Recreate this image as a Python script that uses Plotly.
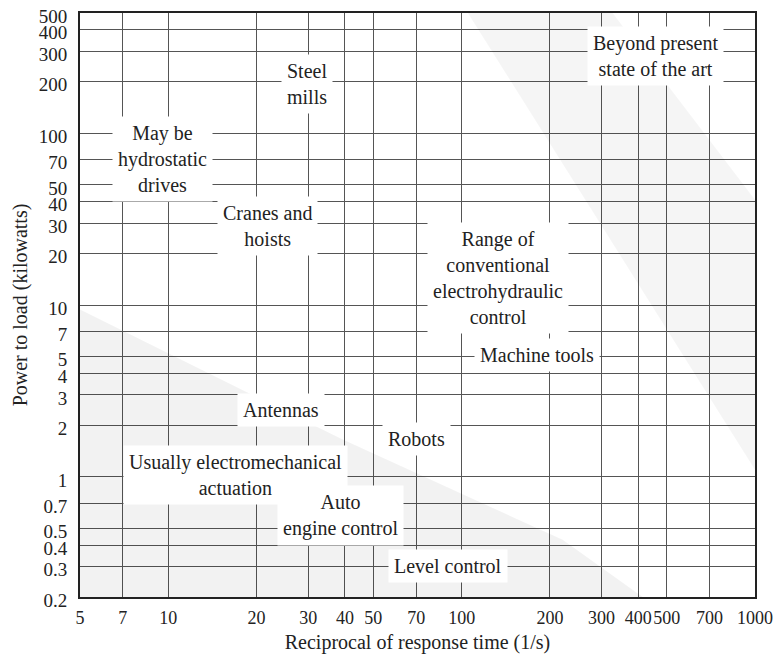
import numpy as np
import plotly.graph_objects as go

# Axis grid / tick values
x_ticks = [5, 7, 10, 20, 30, 40, 50, 70, 100, 200, 300, 400, 500, 700, 1000]
x_tick_text = ["5", "7", "10", "20", "30", "40", "50", "70", "100", "200", "300", "400", "500", "700", "1000"]
y_ticks = [0.2, 0.3, 0.4, 0.5, 0.7, 1, 2, 3, 4, 5, 7, 10, 20, 30, 40, 50, 70, 100, 200, 300, 400, 500]
y_tick_text = ["0.2", "0.3", "0.4", "0.5", "0.7", "1", "2", "3", "4", "5", "7", "10", "20", "30", "40",
               "50", "70", "100", "200", "300", "400", "500"]

# Region labels (response rate 1/s, power kW)
labels = [
    "Beyond present<br>state of the art",
    "Steel<br>mills",
    "May be<br>hydrostatic<br>drives",
    "Cranes and<br>hoists",
    "Range of<br>conventional<br>electrohydraulic<br>control",
    "Machine tools",
    "Antennas",
    "Robots",
    "Usually electromechanical<br>actuation",
    "Auto<br>engine control",
    "Level control",
]
label_x = [459, 29.7, 9.55, 21.75, 133, 181, 24.2, 70, 16.9, 38.6, 90]
label_y = [280, 194, 71, 28.8, 14.3, 5.1, 2.44, 1.66, 1.03, 0.60, 0.302]

# Shaded (grey) bands
lower_band_x = [5, 39, 221, 414, 5]
lower_band_y = [9.4, 1.66, 0.43, 0.2, 0.2]
upper_band_x = [105, 327, 1000, 1000]
upper_band_y = [500, 500, 41, 1.1]

FONT = "Liberation Serif, Times New Roman, serif"

fig = go.Figure()
fig.add_trace(go.Scatter(x=lower_band_x, y=lower_band_y, fill="toself", mode="lines",
                         line=dict(width=0), fillcolor="rgba(0,0,0,0.05)",
                         hoverinfo="skip", showlegend=False))
fig.add_trace(go.Scatter(x=upper_band_x, y=upper_band_y, fill="toself", mode="lines",
                         line=dict(width=0), fillcolor="rgba(0,0,0,0.04)",
                         hoverinfo="skip", showlegend=False))

for t, xv, yv in zip(labels, label_x, label_y):
    fig.add_annotation(x=np.log10(xv), y=np.log10(yv), xref="x", yref="y", text=t,
                       showarrow=False, bgcolor="white", borderpad=5,
                       font=dict(family=FONT, size=20, color="#222"), align="center")

axis_common = dict(type="log", showgrid=True, gridcolor="#555", gridwidth=1.2,
                   showline=True, linecolor="#222", linewidth=2, mirror=True,
                   ticks="outside", tickcolor="rgba(0,0,0,0)", tickangle=0,
                   automargin=False, zeroline=False, ticklabeloverflow="allow")

fig.update_xaxes(range=[np.log10(5), np.log10(1000)], tickvals=x_ticks, ticktext=x_tick_text,
                 ticklen=3, tickfont=dict(family=FONT, size=18, color="#222"),
                 title=dict(text="Reciprocal of response time (1/s)",
                            font=dict(family=FONT, size=20, color="#222"), standoff=8),
                 **axis_common)
fig.update_yaxes(range=[np.log10(0.2), np.log10(500)], tickvals=y_ticks, ticktext=y_tick_text,
                 ticklen=7, ticklabelshift=3, tickfont=dict(family=FONT, size=19, color="#222"),
                 title=dict(text="Power to load (kilowatts)",
                            font=dict(family=FONT, size=20, color="#222"), standoff=6),
                 **axis_common)

fig.update_layout(width=774, height=649, margin=dict(l=72, r=27, t=5, b=60),
                  plot_bgcolor="white", paper_bgcolor="white", showlegend=False)

fig.write_html("out.html")
